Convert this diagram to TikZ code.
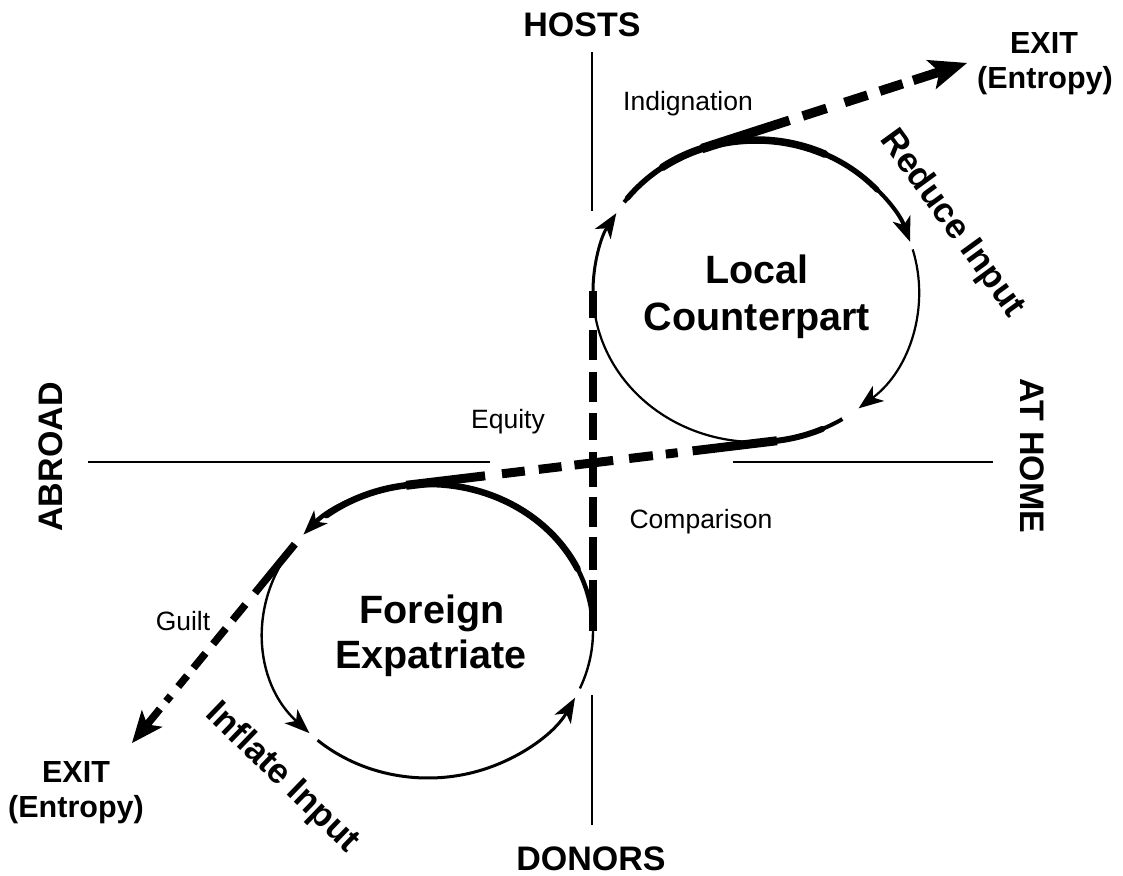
\documentclass[tikz,border=0pt]{standalone}
\usepackage{fontspec}
\setmainfont{Liberation Sans}
\usetikzlibrary{arrows.meta,calc}
\begin{document}
\begin{tikzpicture}[x=1pt,y=-1pt,
  lr/.style={x radius=163,y radius=151},
  fr/.style={x radius=165,y radius=147},
  tip/.style={-{Stealth[length=25pt,width=19pt,inset=7pt,line width=0pt]}},
  bigtip/.style={-{Stealth[length=38pt,width=31pt,inset=9pt,line width=0pt]}},
  guilttip/.style={-{Stealth[length=32pt,width=27pt,inset=8pt,line width=0pt]}},
  over/.style={line cap=round},
  axis/.style={line width=1.4pt},
  axlabel/.style={font=\fontsize{34}{40}\selectfont\bfseries, inner sep=0pt},
  small/.style={font=\fontsize{26.5}{30}\selectfont, inner sep=0pt},
  big/.style={font=\fontsize{39.5}{46}\selectfont\bfseries, inner sep=0pt},
  exitlabel/.style={font=\fontsize{30.5}{36}\selectfont\bfseries, inner sep=0pt},
  slant/.style={font=\fontsize{35}{40}\selectfont\bfseries, inner sep=0pt},
]
\useasboundingbox (0,0) rectangle (1123,875);

% centres and tangent points
\coordinate (Lc) at (756,291);
\coordinate (Fc) at (428,631);
\coordinate (Ll) at ($(Lc)+(180:163 and 151)$);
\coordinate (Lt) at ($(Lc)+(250.6:163 and 151)$);
\coordinate (Lb) at ($(Lc)+(82.6:163 and 151)$);
\coordinate (Fr) at ($(Fc)+(0:165 and 147)$);
\coordinate (Ft) at ($(Fc)+(262.4:165 and 147)$);
\coordinate (Fg) at ($(Fc)+(216.2:165 and 147)$);
\coordinate (EXr) at (967,63);
\coordinate (EXl) at (132,743);

% axes
\coordinate (ax1) at (592,52);  \coordinate (ax2) at (592,211);
\coordinate (ax3) at (592,695); \coordinate (ax4) at (592,825);
\coordinate (ax5) at (88,462);  \coordinate (ax6) at (490,462);
\coordinate (ax7) at (733,462); \coordinate (ax8) at (993,462);
\draw[axis] (ax1) -- (ax2);
\draw[axis] (ax3) -- (ax4);
\draw[axis] (ax5) -- (ax6);
\draw[axis] (ax7) -- (ax8);

% Local counterpart loop (clockwise on screen)
\draw[line width=2.2pt] (Lb) arc[lr,start angle=82.6,end angle=180];
\draw[line width=3pt,tip] (Ll) arc[lr,start angle=180,end angle=211];
\draw[line width=4pt,tip] ($(Lc)+(216:163 and 151)$) arc[lr,start angle=216,end angle=341];
\draw[line width=5.5pt,over] ($(Lc)+(218:163 and 151)$) arc[lr,start angle=218,end angle=318];
\draw[line width=7.5pt,over] ($(Lc)+(235:163 and 151)$) arc[lr,start angle=235,end angle=295];
\draw[line width=2.2pt,tip] ($(Lc)+(344:163 and 151)$) arc[lr,start angle=344,end angle=411];
\draw[line width=4pt] ($(Lc)+(58:163 and 151)$) arc[lr,start angle=58,end angle=84];
\draw[line width=6pt,over] ($(Lc)+(66:163 and 151)$) arc[lr,start angle=66,end angle=84];

% Foreign expatriate loop (counter-clockwise on screen)
\draw[line width=4.5pt,tip] ($(Fc)+(352:165 and 147)$) arc[fr,start angle=352,end angle=221];
\draw[line width=6.5pt,over] ($(Fc)+(335:165 and 147)$) arc[fr,start angle=335,end angle=232];
\draw[line width=2.4pt,tip] (Fg) arc[fr,start angle=216.2,end angle=136];
\draw[line width=3pt,tip] ($(Fc)+(132:165 and 147)$) arc[fr,start angle=132,end angle=27];
\draw[line width=2.4pt] ($(Fc)+(23:165 and 147)$) arc[fr,start angle=23,end angle=-8];

% dashed connectors
\draw[line width=8pt, dash pattern=on 51pt off 10pt on 33pt off 10pt on 30pt off 10pt on 35pt off 12pt on 27pt off 11pt on 30pt off 12pt on 30pt off 12pt on 80pt] (Fr) -- (Ll);
\draw[line width=9pt, dash pattern=on 85pt off 15pt on 12pt off 13pt on 24pt off 16pt on 39pt off 13pt on 23pt off 14pt on 23pt off 17pt on 200pt] (Lb) -- (Ft);
\draw[line width=9.5pt, bigtip, dash pattern=on 92pt off 14pt on 25pt off 19pt on 24pt off 13pt on 24pt off 11pt on 100pt] (Lt) -- (EXr);
\draw[line width=7.5pt, guilttip, dash pattern=on 63pt off 15pt on 20pt off 11pt on 20pt off 12pt on 19pt off 10pt on 14pt off 12pt on 7pt off 10pt on 80pt] (Fg) -- (EXl);

% labels
\node[axlabel, anchor=base] (hosts) at (582,37) {HOSTS};
\node[axlabel, anchor=base] (donors) at (591,870) {DONORS};
\node[axlabel, anchor=base, rotate=90] (abroad) at (62,457) {ABROAD};
\node[axlabel, anchor=base, rotate=-90] (athome) at (1020,456) {AT HOME};

\node[exitlabel, anchor=base] (exitr) at (1044,53) {EXIT};
\node[exitlabel, anchor=base] (entr) at (1045,88) {(Entropy)};
\node[exitlabel, anchor=base] (exitl) at (76,782) {EXIT};
\node[exitlabel, anchor=base] (entl) at (76,817) {(Entropy)};

\node[small, anchor=base] (indig) at (688,110) {Indignation};
\node[small, anchor=base] (equity) at (508,428) {Equity};
\node[small, anchor=base] (compar) at (701,528) {Comparison};
\node[small, anchor=base] (guilt) at (183,630) {Guilt};

\node[big, anchor=base] (local) at (757,283) {Local};
\node[big, anchor=base] (localb) at (757,330) {Counterpart};
\node[big, anchor=base] (foreign) at (432,623) {Foreign};
\node[big, anchor=base] (foreignb) at (431,668) {Expatriate};

\node[slant, rotate=-54] (reduce) at (952,224) {Reduce Input};
\node[slant, rotate=-44] (inflate) at (282,778) {Inflate Input};
\end{tikzpicture}
\end{document}
